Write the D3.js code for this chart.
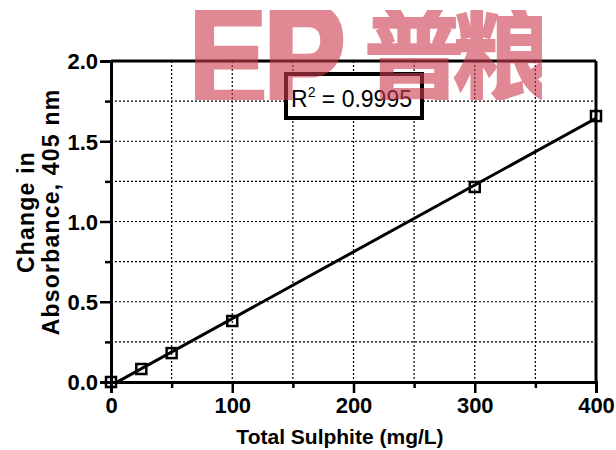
<!DOCTYPE html>
<html>
<head>
<meta charset="utf-8">
<script src="https://cdn.jsdelivr.net/npm/d3@7"></script>
<style>
  body { margin: 0; background: #fff; }
  svg { display: block; font-family: Arial, "Liberation Sans", sans-serif; }
  .tick text { font-weight: bold; font-size: 22px; fill: #000; }
</style>
</head>
<body>
<div id="chart"></div>
<script>
// sulphite standards (mg/L) vs change in absorbance
const concentration = [0, 25, 50, 100, 300, 400];
const absorbance = [0, 0.081, 0.18, 0.38, 1.215, 1.657];
const xTicks = [0, 100, 200, 300, 400];
const yTicks = [0, 0.5, 1.0, 1.5, 2.0];
const xGrid = [50, 100, 150, 200, 250, 300, 350];
const yGrid = [0.25, 0.5, 0.75, 1.0, 1.25, 1.5, 1.75];
const rSquared = "0.9995";

const width = 616, height = 450;
const margin = { top: 61, right: 20, bottom: 68, left: 111 };
const w = width - margin.left - margin.right;
const h = height - margin.top - margin.bottom;

const svg = d3.select("#chart").append("svg")
  .attr("width", width)
  .attr("height", height);

const g = svg.append("g")
  .attr("transform", `translate(${margin.left},${margin.top})`);

const x = d3.scaleLinear().domain([0, 400]).range([0, w]);
const y = d3.scaleLinear().domain([0, 2]).range([h, 0]);

g.append("clipPath").attr("id", "plotclip")
  .append("rect").attr("width", w).attr("height", h);

// dotted grid
g.append("g")
  .selectAll("line")
  .data(xGrid)
  .join("line")
  .attr("x1", d => x(d)).attr("x2", d => x(d))
  .attr("y1", 0).attr("y2", h)
  .attr("stroke", "#000").attr("stroke-width", 1.2)
  .attr("stroke-dasharray", "2,2");

g.append("g")
  .selectAll("line")
  .data(yGrid)
  .join("line")
  .attr("x1", 0).attr("x2", w)
  .attr("y1", d => y(d)).attr("y2", d => y(d))
  .attr("stroke", "#000").attr("stroke-width", 1.2)
  .attr("stroke-dasharray", "2,2");

// minor ticks
g.append("g")
  .attr("transform", `translate(0,${h})`)
  .call(d3.axisBottom(x).tickValues([50, 150, 250, 350]).tickSize(6).tickFormat(""))
  .call(a => a.select(".domain").remove())
  .call(a => a.selectAll("line").attr("stroke-width", 2.5));

g.append("g")
  .call(d3.axisLeft(y).tickValues([0.25, 0.75, 1.25, 1.75]).tickSize(6).tickFormat(""))
  .call(a => a.select(".domain").remove())
  .call(a => a.selectAll("line").attr("stroke-width", 2.5));

// major axes
g.append("g")
  .attr("transform", `translate(0,${h})`)
  .call(d3.axisBottom(x).tickValues(xTicks).tickSize(11).tickPadding(4).tickFormat(d3.format("d")))
  .call(a => a.select(".domain").attr("stroke-width", 3))
  .call(a => a.selectAll("line").attr("stroke-width", 2.5));

g.append("g")
  .call(d3.axisLeft(y).tickValues(yTicks).tickSize(11).tickPadding(2).tickFormat(d3.format(".1f")))
  .call(a => a.select(".domain").attr("stroke-width", 3))
  .call(a => a.selectAll("text").attr("dy", "0.36em"))
  .call(a => a.selectAll("line").attr("stroke-width", 2.5));

// frame top and right
g.append("line").attr("x1", 0).attr("x2", w).attr("y1", 0).attr("y2", 0)
  .attr("stroke", "#000").attr("stroke-width", 3);
g.append("line").attr("x1", w).attr("x2", w).attr("y1", 0).attr("y2", h)
  .attr("stroke", "#000").attr("stroke-width", 3);

// linear fit
const mx = d3.mean(concentration), my = d3.mean(absorbance);
const sxy = d3.sum(concentration, (c, i) => (c - mx) * (absorbance[i] - my));
const sxx = d3.sum(concentration, c => (c - mx) * (c - mx));
const slope = sxy / sxx, intercept = my - slope * mx;

g.append("line")
  .attr("clip-path", "url(#plotclip)")
  .attr("x1", x(0)).attr("y1", y(intercept))
  .attr("x2", x(400)).attr("y2", y(intercept + slope * 400))
  .attr("stroke", "#000").attr("stroke-width", 3);

// square markers
g.append("g")
  .selectAll("rect")
  .data(concentration)
  .join("rect")
  .attr("x", (d) => x(d) - 5)
  .attr("y", (d, i) => y(absorbance[i]) - 5)
  .attr("width", 10).attr("height", 10)
  .attr("fill", "none")
  .attr("stroke", "#000").attr("stroke-width", 2.5);

// R² box
svg.append("rect")
  .attr("x", 286).attr("y", 74).attr("width", 136).attr("height", 44)
  .attr("fill", "#fff").attr("stroke", "#000").attr("stroke-width", 4);

const rt = svg.append("text")
  .attr("x", 291).attr("y", 107)
  .attr("font-size", 23);
rt.append("tspan").text("R");
rt.append("tspan").attr("font-size", 14).attr("dy", -10).text("2");
rt.append("tspan").attr("dy", 10).text(" = " + rSquared);

// axis titles
svg.append("text")
  .attr("x", 340).attr("y", 444)
  .attr("text-anchor", "middle")
  .attr("font-size", 21).attr("font-weight", "bold")
  .text("Total Sulphite (mg/L)");

const yt = svg.append("text")
  .attr("transform", "translate(34,212) rotate(-90)")
  .attr("text-anchor", "middle")
  .attr("font-size", 23).attr("font-weight", "bold")
  .attr("letter-spacing", 1.2);
yt.append("tspan").attr("x", 0).attr("y", 0).text("Change in");
yt.append("tspan").attr("x", 0).attr("y", 25).text("Absorbance, 405 nm");

// watermark
svg.append("clipPath").attr("id", "wmclip")
  .append("rect").attr("x", 195).attr("y", 10).attr("width", 347).attr("height", 90);

const wm = svg.append("g")
  .attr("clip-path", "url(#wmclip)")
  .attr("opacity", 0.6)
  .attr("fill", "rgb(205,60,80)")
  .attr("stroke", "rgb(205,60,80)");
wm.append("text")
  .attr("transform", "translate(186,110) scale(0.8,1)")
  .attr("font-size", 150).attr("font-weight", "bold")
  .attr("stroke-width", 7)
  .attr("letter-spacing", -2)
  .text("EP");
wm.append("text")
  .attr("x", 364).attr("y", 92)
  .attr("font-family", "'Noto Sans CJK SC'")
  .attr("font-size", 100).attr("font-weight", "bold")
  .attr("stroke-width", 2)
  .attr("letter-spacing", -12)
  .text("普粮");
</script>
</body>
</html>
